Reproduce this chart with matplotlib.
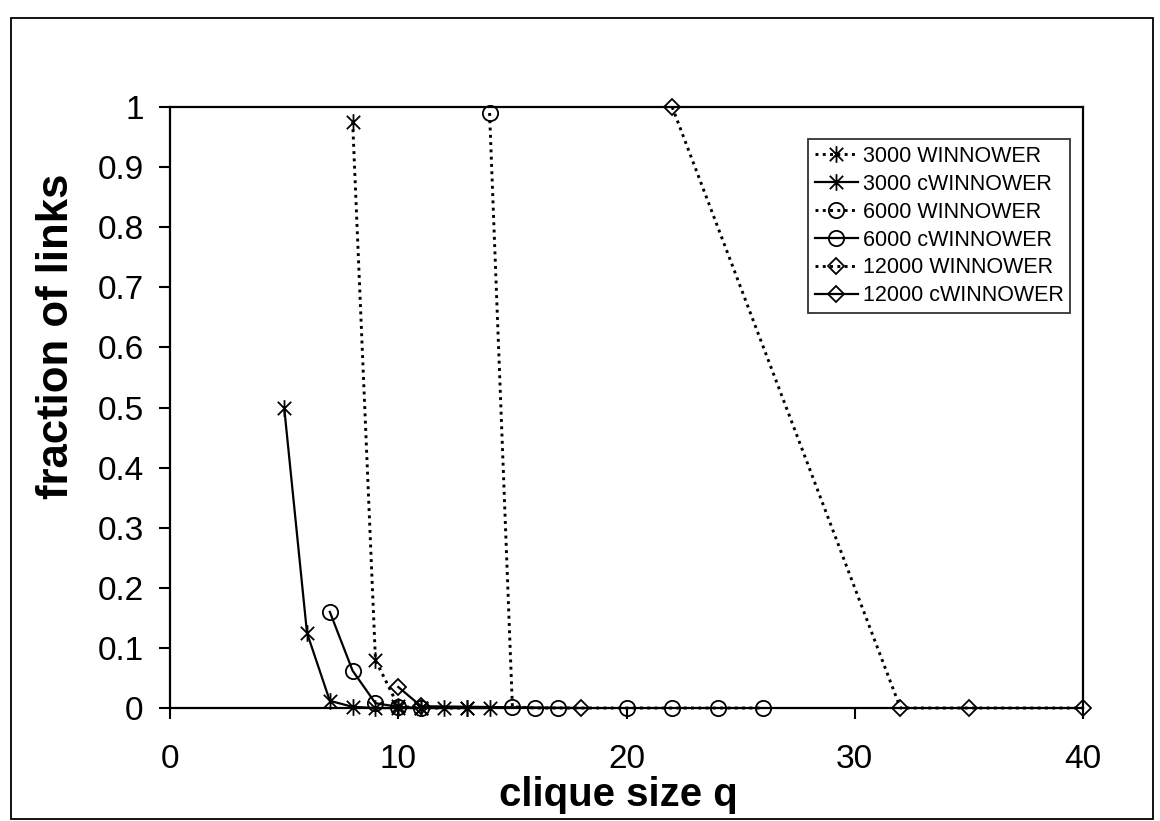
import matplotlib
matplotlib.use("Agg")
import matplotlib.pyplot as plt
from matplotlib.path import Path
from matplotlib.patches import Rectangle

plt.rcParams['font.family'] = ['Liberation Sans', 'DejaVu Sans']

# ---- data ----
x_3000_w = [8, 9, 10, 11, 13]
y_3000_w = [0.975, 0.08, 0.003, 0.0, 0.0]
x_3000_c = [5, 6, 7, 8, 9, 10, 11, 12, 13, 14]
y_3000_c = [0.5, 0.125, 0.012, 0.002, 0.0, 0.0, 0.0, 0.0, 0.0, 0.0]
x_6000_w = [14, 15, 16, 17, 20, 22, 24, 26]
y_6000_w = [0.99, 0.002, 0.0, 0.0, 0.0, 0.0, 0.0, 0.0]
x_6000_c = [7, 8, 9, 10, 11]
y_6000_c = [0.16, 0.062, 0.008, 0.002, 0.0]
x_12000_w = [22, 32, 35, 40]
y_12000_w = [1.0, 0.0, 0.0, 0.0]
x_12000_c = [10, 11, 18]
y_12000_c = [0.035, 0.003, 0.0]

labels = ["3000 WINNOWER", "3000 cWINNOWER", "6000 WINNOWER",
          "6000 cWINNOWER", "12000 WINNOWER", "12000 cWINNOWER"]
x_ticks = [0, 10, 20, 30, 40]
y_ticks = [0, 0.1, 0.2, 0.3, 0.4, 0.5, 0.6, 0.7, 0.8, 0.9, 1]
y_ticklabels = ["0", "0.1", "0.2", "0.3", "0.4", "0.5", "0.6", "0.7", "0.8", "0.9", "1"]

# asterisk marker: X plus vertical bar
star = Path([(-1, -1), (1, 1), (-1, 1), (1, -1), (0, -1.25), (0, 1.25)],
            [Path.MOVETO, Path.LINETO, Path.MOVETO, Path.LINETO, Path.MOVETO, Path.LINETO])

fig = plt.figure(figsize=(11.6, 8.21), dpi=100)
ax = fig.add_axes([0.1466, 0.1376, 0.787, 0.7321])

dotted = (0, (1.0, 1.5))
common_d = dict(color='black', lw=2.1, ls=dotted, clip_on=False, mfc='none',
                mec='black', mew=1.3)
common_s = dict(color='black', lw=1.6, ls='-', clip_on=False, mfc='none',
                mec='black', mew=1.3)

ax.plot(x_3000_w, y_3000_w, marker=star, ms=12, label=labels[0], **common_d)
ax.plot(x_3000_c, y_3000_c, marker=star, ms=12, label=labels[1], **common_s)
ax.plot(x_6000_w, y_6000_w, marker='o', ms=11, label=labels[2], **common_d)
ax.plot(x_6000_c, y_6000_c, marker='o', ms=11, label=labels[3], **common_s)
ax.plot(x_12000_w, y_12000_w, marker='D', ms=8.5, label=labels[4], **common_d)
ax.plot(x_12000_c, y_12000_c, marker='D', ms=8.5, label=labels[5], **common_s)

ax.set_xlim(0, 40)
ax.set_ylim(0, 1)
ax.set_xticks(x_ticks)
ax.set_xticklabels([str(t) for t in x_ticks])
ax.set_yticks(y_ticks)
ax.set_yticklabels(y_ticklabels)
ax.tick_params(axis='both', direction='out', length=8, width=1.5,
               labelsize=24, colors='black')
ax.tick_params(axis='x', pad=18)
ax.tick_params(axis='y', pad=11)
for sp in ax.spines.values():
    sp.set_linewidth(1.6)
    sp.set_color('black')

ax.set_xlabel("clique size q", fontsize=29, fontweight='bold')
ax.xaxis.set_label_coords(0.4907, -0.113)
ax.set_ylabel("fraction of links", fontsize=31.5, fontweight='bold')
ax.yaxis.set_label_coords(-0.102, 0.618)

leg = ax.legend(loc='upper left', bbox_to_anchor=(0.699, 0.946), borderaxespad=0,
                fontsize=15.5, frameon=True, fancybox=False, edgecolor='black',
                handlelength=2.0, handletextpad=0.25, labelspacing=0.32,
                borderpad=0.3)
leg.get_frame().set_linewidth(1.3)

fig.patches.append(Rectangle((11 / 1160, 2 / 821), (1153 - 11) / 1160, (803 - 2) / 821,
                             transform=fig.transFigure, fill=False,
                             edgecolor='black', linewidth=1.3))

fig.savefig("out.png", dpi=100)
